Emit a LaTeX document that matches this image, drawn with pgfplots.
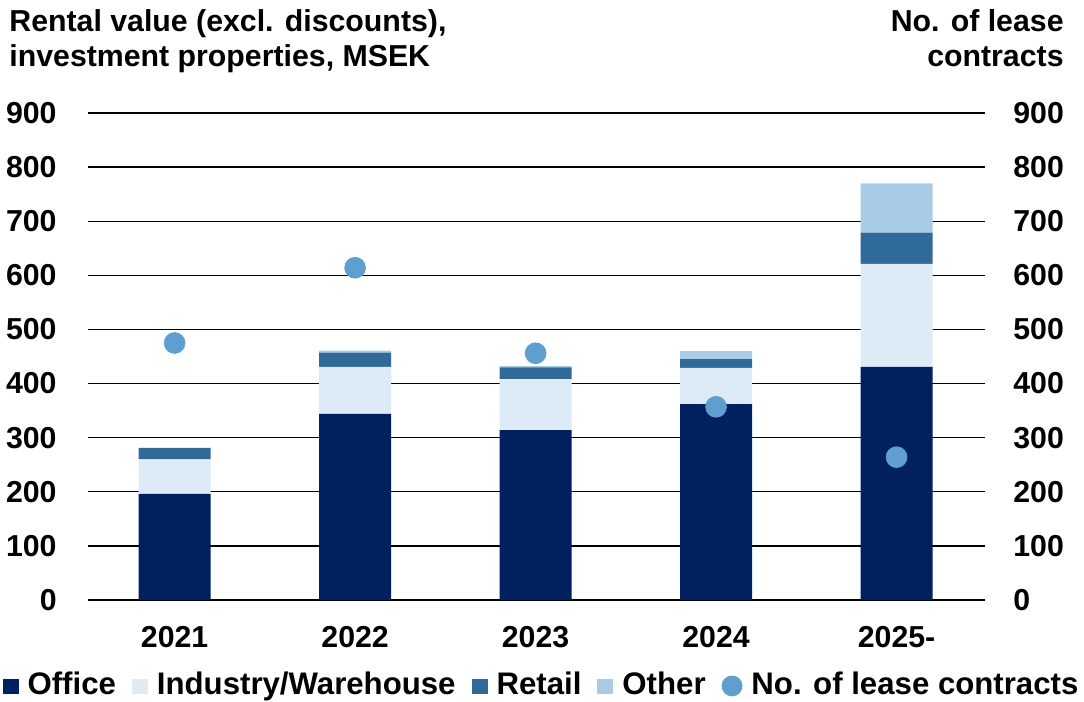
\documentclass[border=0pt]{standalone}
\usepackage{fontspec}
\setmainfont{Liberation Sans}
\usepackage{pgfplots}
\pgfplotsset{compat=1.18}
\definecolor{office}{HTML}{002060}
\definecolor{industry}{HTML}{DDEBF6}
\definecolor{retail}{HTML}{2F6A99}
\definecolor{other}{HTML}{A9CCE6}
\definecolor{leases}{HTML}{5F9FCF}
\pgfplotsset{sqlegend/.style={legend image code/.code={\fill[##1] (0bp,-4bp) rectangle (8bp,3.5bp);}}}
\begin{document}
\fontsize{15.2}{18}\selectfont\bfseries
\begin{tikzpicture}
\begin{axis}[name=main, scale only axis, width=448.5bp, height=243.5bp,
 xmin=-0.48, xmax=4.49, ymin=0, ymax=900,
 ytick={0,100,...,900}, xtick={0,...,4}, xticklabels={2021,2022,2023,2024,2025-},
 ymajorgrids, grid style={black, line width=0.65bp},
 axis line style={draw=none}, major tick length=0pt,
 ybar stacked, bar width=36bp,
 /pgf/number format/assume math mode=true,
 yticklabel style={anchor=east, inner sep=0pt, xshift=-15.5bp},
 xticklabel style={anchor=base, inner sep=0pt, yshift=-24bp},
 legend columns=5,
 legend style={draw=none, fill=none, at={(0.5,0)}, anchor=north, xshift=2bp, yshift=-36bp,
   inner sep=0pt, nodes={inner sep=0pt}, font=\fontsize{15.65}{18}\selectfont\bfseries,
   /tikz/every odd column/.append style={column sep=4.5bp},
   /tikz/every even column/.append style={column sep=8bp}},
]
\addplot[fill=office, draw=none, sqlegend] coordinates {(0,196) (1,344) (2,314) (3,362) (4,431)};
\addlegendentry{Office}
\addplot[fill=industry, draw=none, sqlegend] coordinates {(0,64) (1,87) (2,94) (3,67) (4,190)};
\addlegendentry{Industry/Warehouse}
\addplot[fill=retail, draw=none, sqlegend] coordinates {(0,21) (1,26) (2,22) (3,16) (4,58)};
\addlegendentry{Retail}
\addplot[fill=other, draw=none, sqlegend] coordinates {(0,0) (1,4) (2,2) (3,15) (4,91)};
\addlegendentry{Other}
\addlegendimage{legend image code/.code={\fill[leases] (5bp,0bp) circle (5bp);}}
\addlegendentry{No. of lease contracts}
\end{axis}
\begin{axis}[at={(main.south west)}, anchor=south west, scale only axis, width=448.5bp, height=243.5bp,
 xmin=-0.48, xmax=4.49, ymin=0, ymax=900,
 ytick={0,100,...,900}, xtick=\empty, yticklabel pos=right,
 axis line style={draw=none}, major tick length=0pt,
 /pgf/number format/assume math mode=true,
 yticklabel style={anchor=west, inner sep=0pt, xshift=14bp},
]
\addplot[only marks, mark=*, mark size=5.2bp, color=leases] coordinates {(0,475) (1,614) (2,456) (3,357) (4,264)};
\end{axis}
\node[anchor=base west, inner sep=0pt] at ([xshift=-39.5bp, yshift=40.5bp]main.north west) {Rental value (excl. discounts),};
\node[anchor=base west, inner sep=0pt] at ([xshift=-39.5bp, yshift=23bp]main.north west) {investment properties, MSEK};
\node[anchor=base east, inner sep=0pt] at ([xshift=39.5bp, yshift=40.5bp]main.north east) {No. of lease};
\node[anchor=base east, inner sep=0pt] at ([xshift=39.5bp, yshift=23bp]main.north east) {contracts};
\pgfresetboundingbox
\path[use as bounding box] ([xshift=-44bp,yshift=-51bp]main.south west) rectangle ([xshift=49.5bp,yshift=56.5bp]main.north east);
\end{tikzpicture}
\end{document}
